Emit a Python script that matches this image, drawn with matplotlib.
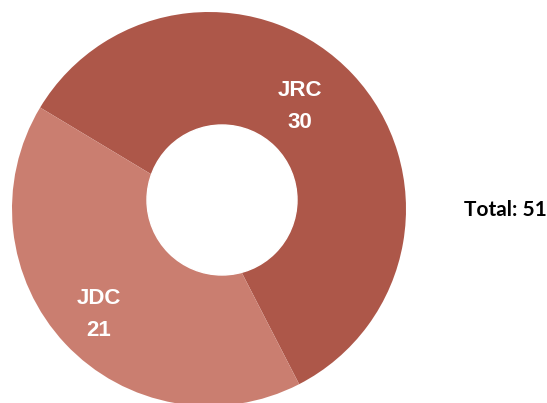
import matplotlib.pyplot as plt
from matplotlib.patches import Circle

# data
labels = ["JRC", "JDC"]
counts = [30, 21]
colors = ["#AD5749", "#CA7E70"]
total = sum(counts)

W, H = 547, 403
fig = plt.figure(figsize=(W / 100, H / 100), dpi=100)
ax = fig.add_axes([0, 0, 1, 1])

# ring centre / radius in pixel units (y up)
cx, cy, r = 209, H - 209, 197
ax.pie(counts, colors=colors, center=(cx, cy), radius=r, startangle=149,
       counterclock=False, wedgeprops=dict(linewidth=0))

# white hole (slightly off-centre as in the original)
ax.add_patch(Circle((222, H - 200), 75, color="white", zorder=5))

# wedge labels
lab_pos = [(300, H - 90), (99, H - 299)]
for (x, y), name, n in zip(lab_pos, labels, counts):
    ax.text(x, y, name, ha="center", va="center", color="white",
            fontsize=16, fontweight="bold", family="Liberation Sans", zorder=6)
    ax.text(x, y - 32, str(n), ha="center", va="center", color="white",
            fontsize=16, fontweight="bold", family="Liberation Sans", zorder=6)

ax.text(505, H - 210, "Total: " + str(total), ha="center", va="center",
        fontsize=15, fontweight="bold", family="Lato", color="black")

ax.set_xlim(0, W)
ax.set_ylim(0, H)
ax.set_aspect("equal")
ax.axis("off")

fig.savefig("out.png", dpi=100)
